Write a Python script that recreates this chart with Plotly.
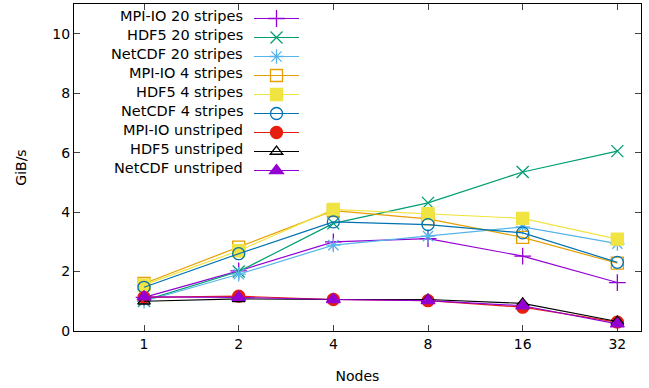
import plotly.graph_objects as go
import math

nodes = [1, 2, 4, 8, 16, 32]
tick_labels = ["1", "2", "4", "8", "16", "32"]

series_names = [
    "MPI-IO 20 stripes", "HDF5 20 stripes", "NetCDF 20 stripes",
    "MPI-IO 4 stripes", "HDF5 4 stripes", "NetCDF 4 stripes",
    "MPI-IO unstriped", "HDF5 unstriped", "NetCDF unstriped",
]
mpiio_20 = [1.13, 2.02, 3.00, 3.11, 2.52, 1.63]
hdf5_20 = [1.02, 2.00, 3.62, 4.31, 5.35, 6.05]
netcdf_20 = [1.00, 1.91, 2.89, 3.19, 3.50, 2.94]
mpiio_4 = [1.60, 2.82, 4.05, 3.77, 3.15, 2.28]
hdf5_4 = [1.55, 2.70, 4.09, 3.95, 3.79, 3.09]
netcdf_4 = [1.47, 2.60, 3.67, 3.58, 3.30, 2.31]
mpiio_un = [1.13, 1.17, 1.06, 1.02, 0.80, 0.30]
hdf5_un = [1.00, 1.08, 1.06, 1.06, 0.93, 0.32]
netcdf_un = [1.15, 1.13, 1.06, 1.02, 0.85, 0.24]

values = [mpiio_20, hdf5_20, netcdf_20, mpiio_4, hdf5_4, netcdf_4,
          mpiio_un, hdf5_un, netcdf_un]
colors = ["#9400d3", "#009e73", "#56b4e9", "#e69f00", "#f0e442",
          "#0072b2", "#e51e10", "#000000", "#9400d3"]
symbols = ["cross-thin-open", "x-thin-open", "asterisk-open", "square-open",
           "square", "circle-open", "circle", "triangle-up-open", "triangle-up"]
sizes = [12, 12, 12, 12, 12, 12, 12, 11, 12]

fig = go.Figure()
for name, ys, c, s, sz in zip(series_names, values, colors, symbols, sizes):
    fig.add_trace(go.Scatter(
        x=nodes, y=ys, mode="lines+markers", name=" ",
        line=dict(color=c, width=1.2),
        marker=dict(symbol=s, size=sz, color=c, line=dict(color=c, width=1.3)),
    ))

# legend labels (right aligned, to the left of the legend keys)
L, R, T, B = 74, 641, 4, 331
row0, step = 16, 19
for i, name in enumerate(series_names):
    py = row0 + i * step
    fig.add_annotation(
        x=(245 - L) / (R - L), y=(B - py) / (B - T), xref="paper", yref="paper",
        text=name, showarrow=False, xanchor="right", yanchor="middle",
        font=dict(family="DejaVu Sans", size=14.5, color="#000"),
    )

fig.update_layout(
    width=649, height=388,
    margin=dict(l=L, r=649 - R, t=T, b=388 - B, autoexpand=False),
    paper_bgcolor="white", plot_bgcolor="white",
    font=dict(family="DejaVu Sans", size=14, color="#000"),
    showlegend=True,
    legend=dict(x=(249 - L) / (R - L), y=1.0, xanchor="left", yanchor="top",
                bgcolor="rgba(0,0,0,0)", font=dict(size=11), itemwidth=45,
                tracegroupgap=0),
)
fig.update_xaxes(
    type="log", range=[math.log10(2 ** -0.74), math.log10(2 ** 5.25)],
    tickvals=nodes, ticktext=tick_labels, ticks="inside", ticklen=6,
    showline=True, linecolor="#000", linewidth=1, mirror="ticks",
    showgrid=False, zeroline=False, automargin=False,
    tickfont=dict(size=14),
    title=dict(text="Nodes", standoff=20, font=dict(size=14)),
)
fig.update_yaxes(
    range=[0, 11], tickvals=[0, 2, 4, 6, 8, 10], ticks="inside", ticklen=6,
    showline=True, linecolor="#000", linewidth=1, mirror="ticks",
    showgrid=False, zeroline=False, automargin=False,
    tickfont=dict(size=14),
    title=dict(text="GiB/s", standoff=22, font=dict(size=14)),
)
fig.write_html("out.html", config={"displayModeBar": False},
               post_script="document.body.style.margin='0';")
